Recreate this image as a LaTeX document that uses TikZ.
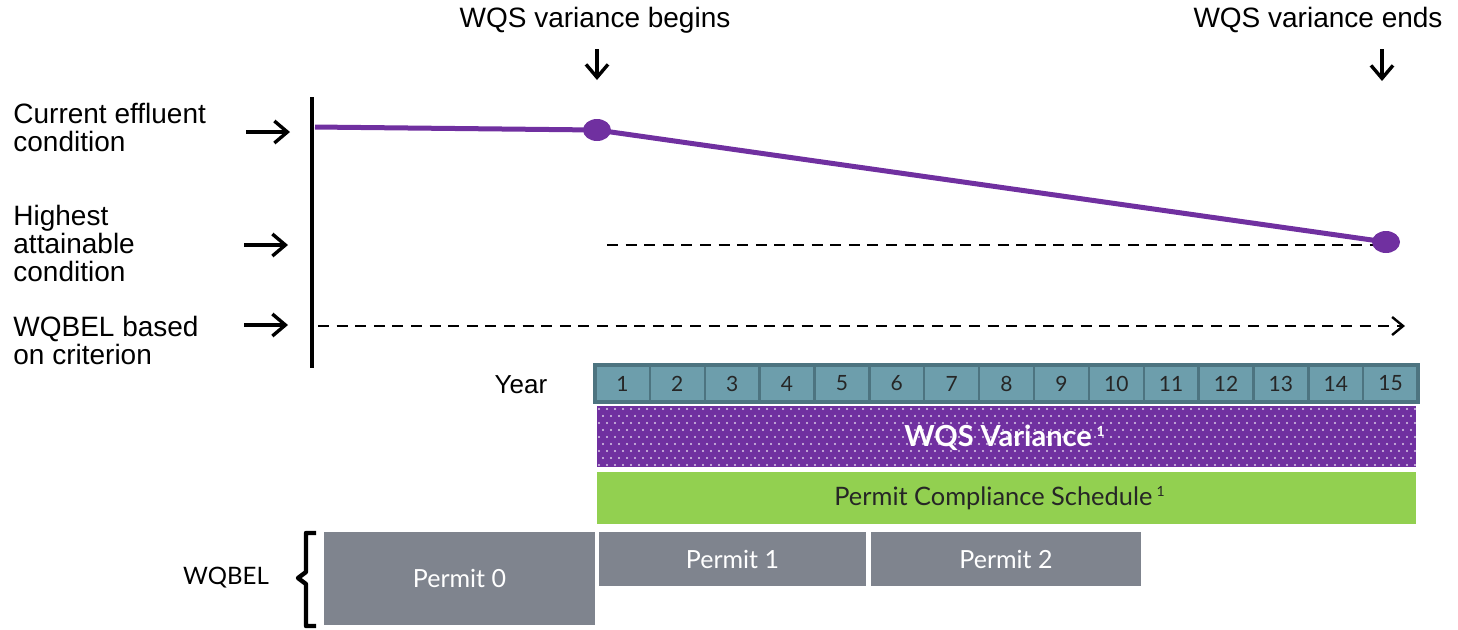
\documentclass[tikz,border=0pt]{standalone}
\usepackage{fontspec}
\setmainfont{Liberation Sans}
\newfontfamily\gill{Lato}
\usetikzlibrary{arrows.meta,shapes.geometric}
\definecolor{vpurple}{HTML}{7030A0}
\definecolor{cellfill}{HTML}{6D9EAC}
\definecolor{celldraw}{HTML}{4D7480}
\definecolor{pgreen}{HTML}{92D050}
\definecolor{pgray}{HTML}{7F848E}
\tikzset{
  lbl/.style={inner sep=0pt, font=\fontsize{14}{14}\selectfont, align=left, anchor=west},
  toplbl/.style={inner sep=0pt, font=\fontsize{14}{14}\selectfont},
  blackarrow/.style={line width=1.7pt, -{Straight Barb[length=6.5pt,width=11pt,line width=1.7pt]}},
  dashline/.style={line width=1.15pt, dash pattern=on 5.5pt off 3.8pt},
  trend/.style={line width=2.5pt, vpurple},
  bigdot/.style={ellipse, fill=vpurple, minimum width=14pt, minimum height=11pt, inner sep=0pt},
  yearcell/.style={fill=cellfill, draw=celldraw, line width=1.2pt, minimum width=27.43pt, minimum height=18.5pt, inner sep=0pt, font=\gill\fontsize{10.5}{11}\selectfont, text=black!85},
  permit/.style={fill=pgray, inner sep=0pt, text=white, font=\gill\fontsize{12.5}{13}\selectfont},
}
\begin{document}
\begin{tikzpicture}[x=0.5pt,y=-0.5pt]
\useasboundingbox (0,0) rectangle (1458,629);

% top labels and arrows
\node[toplbl] (begins) at (595,20) {WQS variance begins};
\node[toplbl] (ends) at (1318,20) {WQS variance ends};
\coordinate (bTop) at (597,49);
\coordinate (bBot) at (597,80);
\coordinate (eTop) at (1382,49);
\coordinate (eBot) at (1382,81);
\draw[blackarrow] (bTop) -- (bBot);
\draw[blackarrow] (eTop) -- (eBot);

% left labels
\node[lbl] (cur) at (13,127) {Current effluent\\condition};
\node[lbl] (high) at (13,243) {Highest\\attainable\\condition};
\node[lbl] (wq) at (13,340) {WQBEL based\\on criterion};
\coordinate (a1s) at (246,132); \coordinate (a1e) at (290,132);
\coordinate (a2s) at (244,245); \coordinate (a2e) at (288,245);
\coordinate (a3s) at (244,325); \coordinate (a3e) at (288,325);
\draw[blackarrow] (a1s) -- (a1e);
\draw[blackarrow] (a2s) -- (a2e);
\draw[blackarrow] (a3s) -- (a3e);

% axis
\coordinate (axT) at (312,97);
\coordinate (axB) at (312,368);
\draw[line width=2.4pt] (axT) -- (axB);

% dashed lines
\coordinate (hS) at (607,245); \coordinate (hE) at (1374,245);
\draw[dashline] (hS) -- (hE);
\coordinate (wS) at (318,326); \coordinate (wE) at (1405,326);
\draw[dashline, -{Straight Barb[length=5.5pt,width=9pt,line width=1.2pt]}] (wS) -- (wE);

% purple trend
\coordinate (start) at (315,127);
\node[bigdot] (d1) at (597,130) {};
\node[bigdot] (d2) at (1386,242) {};
\draw[trend] (start) -- (d1.center) -- (d2.center);

% year row
\node[inner sep=0pt, font=\fontsize{13}{13}\selectfont] (year) at (521,385) {Year};
\foreach \i in {1,...,15}{
  \node[yearcell] (y\i) at ({595+(\i-0.5)*54.87},383.5) {\i};
}
\draw[celldraw, line width=1.6pt] (595,365) rectangle (1418,402);

% WQS variance band
\begin{scope}
\clip (597,406) rectangle (1416,467);
\fill[vpurple] (597,406) rectangle (1416,467);
\foreach \r in {0,...,8}{
  \pgfmathsetmacro{\yy}{409+\r*7}
  \pgfmathsetmacro{\off}{mod(\r,2)*4}
  \foreach \c in {0,...,103}{
    \fill[white, opacity=0.75] ({599+\off+\c*8},\yy) circle (0.6pt);
  }
}
\end{scope}
\node[inner sep=0pt, text=white, font=\gill\bfseries\fontsize{14.5}{15}\selectfont] (wqsv) at (1005,438) {WQS Variance\,\textsuperscript{\fontsize{7}{7}\selectfont 1}};

% compliance band
\node[fill=pgreen, minimum width=409.5pt, minimum height=26pt, inner sep=0pt] (pcs) at (1006.5,498) {};
\node[inner sep=0pt, font=\gill\fontsize{12.7}{13}\selectfont, text=black!85] (pcst) at (1000,498) {Permit Compliance Schedule\,\textsuperscript{\fontsize{7}{7}\selectfont 1}};

% permits
\node[permit, minimum width=135.5pt, minimum height=46.5pt] (p0) at (459.5,578.5) {Permit 0};
\node[permit, minimum width=133.5pt, minimum height=27pt] (p1) at (732.5,559) {Permit 1};
\node[permit, minimum width=135pt, minimum height=27pt] (p2) at (1006,559) {Permit 2};

% brace and WQBEL
\draw[line width=2.2pt, line join=round] (316,533) -- (306,533) -- (306,572) -- (298,578) -- (306,584) -- (306,626) -- (316,626);
\node[inner sep=0pt, font=\gill\fontsize{12}{12}\selectfont] (wqbel) at (226,578) {WQBEL};
\end{tikzpicture}
\end{document}
